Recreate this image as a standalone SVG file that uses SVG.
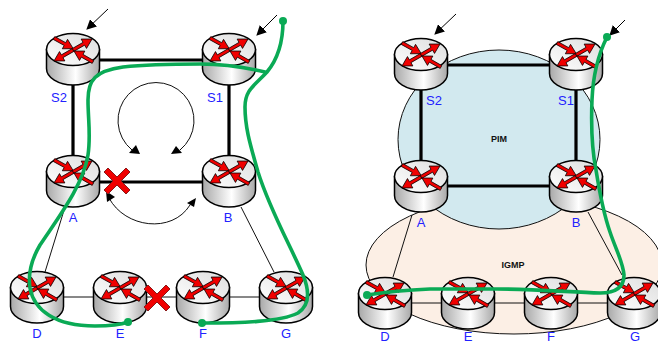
<svg xmlns="http://www.w3.org/2000/svg" xmlns:xlink="http://www.w3.org/1999/xlink" width="658" height="343" viewBox="0 0 658 343">
<style>
text{font-family:"Liberation Sans",Arial,sans-serif}
.lab{font-size:13px;fill:#2222ff;text-anchor:middle}
.zone{font-size:9px;font-weight:bold;fill:#111;text-anchor:middle}
.thick{stroke:#000;stroke-width:3.2;fill:none}
.thin{stroke:#111;stroke-width:1;fill:none}
.ptr{stroke:#000;stroke-width:1;fill:none;marker-end:url(#ah)}
.green{stroke:#0aaa55;stroke-width:3.6;fill:none;stroke-linecap:round}
.dot{fill:#0aaa55}
.x{fill:#f00000;stroke:#8a1a1a;stroke-width:1}
.ra{fill:#f00000;stroke:#000;stroke-width:.7;stroke-linejoin:miter}
</style>
<defs>
<linearGradient id="body" x1="0" x2="1" y1="0" y2="0"><stop offset="0" stop-color="#a8a8a8"/><stop offset=".55" stop-color="#fff"/><stop offset="1" stop-color="#a8a8a8"/></linearGradient>
<linearGradient id="top" x1="0" x2="1" y1="1" y2="0"><stop offset="0" stop-color="#fff"/><stop offset="1" stop-color="#ddd"/></linearGradient>
<marker id="ah" viewBox="0 0 10 10" refX="9" refY="5" markerWidth="10" markerHeight="10" markerUnits="userSpaceOnUse" orient="auto"><path d="M0 0L10 5L0 10z" fill="#000"/></marker>
<path id="ar" class="ra" d="M0 -1.6H12.5V-5.4L22 0L12.5 5.4V1.6H0z"/>
<g id="router">
<path d="M-26.5 16.5V35.5A26.5 16.5 0 0 0 26.5 35.5V16.5z" fill="url(#body)" stroke="#000" stroke-width="1.5"/>
<ellipse cx="0" cy="16.5" rx="26.5" ry="16" fill="url(#top)" stroke="#000" stroke-width="1.5"/>
<use xlink:href="#ar" transform="translate(-19 5) rotate(29)"/>
<use xlink:href="#ar" transform="translate(0 17) rotate(-30)"/>
<use xlink:href="#ar" transform="translate(0 17) rotate(150)"/>
<use xlink:href="#ar" transform="translate(20 29) rotate(-150)"/>
</g>
<path id="cross" class="x" d="M-9 -13L0 -4L9 -13L13 -9L4 0L13 9L9 13L0 4L-9 13L-13 9L-4 0L-13 -9z"/>
</defs>
<g id="zones">
<ellipse id="igmp" cx="514" cy="265" rx="148" ry="69" fill="#fcefe5" stroke="#111" stroke-width="1"/>
<ellipse id="pim" cx="499" cy="139.5" rx="101" ry="89.5" fill="#d2e9ef" stroke="#111" stroke-width="1"/>
<text class="zone" x="499" y="142">PIM</text>
<text class="zone" x="513" y="268">IGMP</text>
</g>
<g id="connectors">
<path class="thick" d="M73 60H229V182H73z"/>
<path class="thin" d="M65 207L45 272M241 207L274 272M37 297H286"/>
<path class="thick" d="M421 65H576V186H421z"/>
<path class="thin" d="M412 215L393 277M588 212L622 275M385 303H634"/>
<path class="ptr" d="M108 9L87 29"/>
<path class="ptr" d="M277 15L257 35"/>
<path class="ptr" d="M456 14L435 34"/>
<path class="ptr" d="M625 20L610 35"/>
</g>
<g id="node-S2"><use xlink:href="#router" x="73" y="33"/><text class="lab" x="59" y="102">S2</text></g>
<g id="node-S1"><use xlink:href="#router" x="229" y="33"/><text class="lab" x="215" y="102">S1</text></g>
<g id="node-A"><use xlink:href="#router" x="73" y="155"/><text class="lab" x="73" y="222">A</text></g>
<g id="node-B"><use xlink:href="#router" x="229" y="155"/><text class="lab" x="228" y="222">B</text></g>
<g id="node-D"><use xlink:href="#router" x="37" y="271"/><text class="lab" x="37" y="338">D</text></g>
<g id="node-E"><use xlink:href="#router" x="120" y="271"/><text class="lab" x="120" y="338">E</text></g>
<g id="node-F"><use xlink:href="#router" x="203" y="271"/><text class="lab" x="203" y="338">F</text></g>
<g id="node-G"><use xlink:href="#router" x="286" y="271"/><text class="lab" x="286" y="338">G</text></g>
<g id="node-S2b"><use xlink:href="#router" x="421" y="38"/><text class="lab" x="434" y="105">S2</text></g>
<g id="node-S1b"><use xlink:href="#router" x="576" y="38"/><text class="lab" x="566" y="105">S1</text></g>
<g id="node-Ab"><use xlink:href="#router" x="421" y="160"/><text class="lab" x="421" y="227">A</text></g>
<g id="node-Bb"><use xlink:href="#router" x="576" y="160"/><text class="lab" x="576" y="227">B</text></g>
<g id="node-Db"><use xlink:href="#router" x="385" y="277"/><text class="lab" x="385" y="341">D</text></g>
<g id="node-Eb"><use xlink:href="#router" x="468" y="277"/><text class="lab" x="468" y="341">E</text></g>
<g id="node-Fb"><use xlink:href="#router" x="551" y="277"/><text class="lab" x="551" y="341">F</text></g>
<g id="node-Gb"><use xlink:href="#router" x="634" y="277"/><text class="lab" x="635" y="341">G</text></g>
<g id="flows">
<path class="thin" d="M132 150A38 38 0 1 1 180 150"/>
<path d="M140 154L129 153L136 145z" fill="#000"/>
<path d="M171 154L182 153L176 146z" fill="#000"/>
<path class="thin" d="M109 198C125 228 172 234 190 205"/>
<path d="M106 191L115 197L107 202z" fill="#000"/>
<path d="M196 198L187 203L194 207z" fill="#000"/>
<use xlink:href="#cross" x="117" y="181"/>
<use xlink:href="#cross" x="157" y="298"/>
<path class="green" d="M283 21C283 45 277 60 267 72C254 86 245 90 245 107C245 130 252 150 258 172C270 210 290 245 303 275C310 292 310 305 298 313C280 322 240 323 202 323"/>
<path class="green" d="M265 72C240 66 220 64 200 64C170 64 150 64 123 67C95 71 88 80 88 100C88 120 91 135 88 155C83 185 60 215 40 245C30 262 28 275 30 288C34 310 55 326 95 326C110 326 120 325 128 322"/>
<circle class="dot" cx="283" cy="21" r="4"/><circle class="dot" cx="128" cy="322" r="4"/><circle class="dot" cx="202" cy="323" r="4"/>
<path class="green" d="M607 37C598 55 593 75 592 100C591 125 592 150 596 170C600 195 603 212 610 232C616 250 623 262 624 275C624 288 615 293 600 293C570 292 530 289 497 289C470 289 450 289 430 289C405 290 385 292 367 295"/>
<circle class="dot" cx="607" cy="37" r="4"/><circle class="dot" cx="367" cy="295" r="4"/>
</g>
</svg>
